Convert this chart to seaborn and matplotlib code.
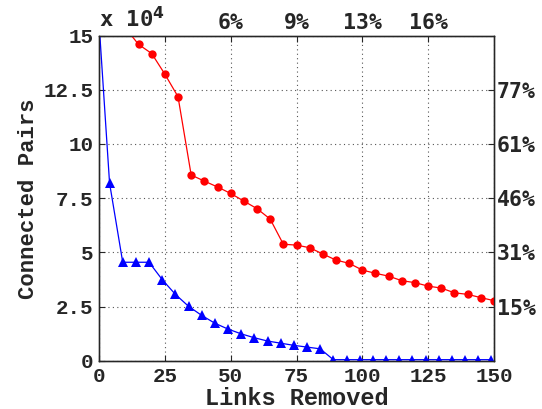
import numpy as np
import pandas as pd
import seaborn as sns
import matplotlib
matplotlib.use("Agg")
import matplotlib.pyplot as plt

# Connected pairs (x 10^4) after removing links, two removal strategies
red_links = [10, 15, 20, 25, 30, 35, 40, 45, 50, 55, 60, 65, 70, 75, 80, 85, 90,
             95, 100, 105, 110, 115, 120, 125, 130, 135, 140, 145, 150]
red_pairs = [15.35, 14.59, 14.17, 13.22, 12.18, 8.57, 8.29, 8.02, 7.72, 7.37, 7.02,
             6.54, 5.38, 5.34, 5.22, 4.93, 4.65, 4.50, 4.19, 4.04, 3.91, 3.70,
             3.61, 3.45, 3.36, 3.14, 3.07, 2.92, 2.78]

blue_links = [0, 4, 9, 14, 19, 24, 29, 34, 39, 44, 49, 54, 59, 64, 69, 74, 79, 84,
              89, 94, 99, 104, 109, 114, 119, 124, 129, 134, 139, 144, 149]
blue_pairs = [15.6, 8.2, 4.55, 4.55, 4.55, 3.75, 3.07, 2.52, 2.10, 1.74, 1.47, 1.25,
              1.07, 0.92, 0.82, 0.72, 0.64, 0.56, 0.06, 0.06, 0.06, 0.06, 0.06,
              0.06, 0.06, 0.06, 0.06, 0.06, 0.06, 0.06, 0.06]

x_ticks = [0, 25, 50, 75, 100, 125, 150]
y_ticks = [0, 2.5, 5, 7.5, 10, 12.5, 15]
y_tick_labels = ["0", "2.5", "5", "7.5", "10", "12.5", "15"]
top_ticks = [25, 50, 75, 100, 125]
top_labels = ["", "6%", "9%", "13%", "16%"]
right_ticks = [2.5, 5, 7.5, 10, 12.5]
right_labels = ["15%", "31%", "46%", "61%", "77%"]

sns.set_style("white")
plt.rcParams["font.family"] = ["Liberation Mono", "DejaVu Sans Mono"]
plt.rcParams["font.weight"] = "bold"

fig = plt.figure(figsize=(5.42, 4.09), dpi=100)
ax = fig.add_axes([0.1827, 0.1174, 0.7287, 0.7958])

red_df = pd.DataFrame({"links": red_links, "pairs": red_pairs})
blue_df = pd.DataFrame({"links": blue_links, "pairs": blue_pairs})

sns.lineplot(data=red_df, x="links", y="pairs", ax=ax, color="#ff0000",
             marker="o", markersize=6, markeredgewidth=0, linewidth=0.9,
             estimator=None, sort=False, zorder=3)
sns.lineplot(data=blue_df, x="links", y="pairs", ax=ax, color="#0000ff",
             marker="^", markersize=7.5, markeredgewidth=0, linewidth=0.9,
             estimator=None, sort=False, zorder=3)

ax.set_xlim(0, 150)
ax.set_ylim(0, 15)
ax.set_xticks(x_ticks)
ax.set_xticklabels([str(t) for t in x_ticks])
ax.set_yticks(y_ticks)
ax.set_yticklabels(y_tick_labels)
ax.grid(True, linestyle=(0, (1, 3)), color="#555555", linewidth=0.8)
ax.tick_params(direction="in", length=4, width=0.8, labelsize=15, pad=4)
for lab in ax.get_xticklabels() + ax.get_yticklabels():
    lab.set_fontweight("bold")
ax.set_xlabel("Links Removed", fontsize=17, fontweight="bold", labelpad=1)
ax.set_ylabel("Connected Pairs", fontsize=16, fontweight="bold", labelpad=3)
for sp in ax.spines.values():
    sp.set_visible(True)
    sp.set_color("black")
    sp.set_linewidth(1.0)

# fraction of links removed along the top
top = ax.twiny()
top.set_xlim(ax.get_xlim())
top.set_xticks(top_ticks)
top.set_xticklabels(top_labels, fontsize=15.5, fontweight="bold",
                    family="DejaVu Sans Mono")
top.tick_params(direction="in", length=4, width=0.8, pad=2)

# fraction of connected pairs along the right side
right = ax.twinx()
right.set_ylim(ax.get_ylim())
right.set_yticks(right_ticks)
right.set_yticklabels(right_labels, fontsize=15.5, fontweight="bold",
                      family="DejaVu Sans Mono")
right.tick_params(direction="in", length=4, width=0.8, pad=2)

ax.text(0.0, 1.012, r"x 10$^{\mathbf{4}}$", transform=ax.transAxes,
        fontsize=16, fontweight="bold", ha="left", va="bottom",
        family="DejaVu Sans Mono")

fig.savefig("out.png", dpi=100, facecolor="white")
